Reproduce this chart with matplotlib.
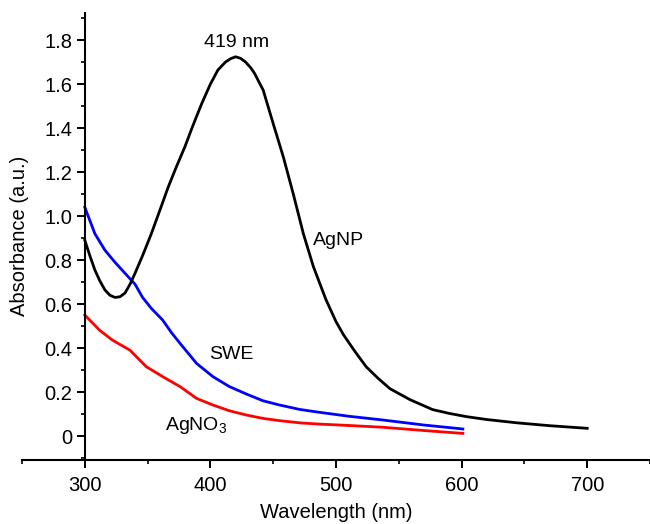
import numpy as np
import matplotlib
matplotlib.use('Agg')
import matplotlib.pyplot as plt
from matplotlib.ticker import MultipleLocator, FuncFormatter

# Fuente tipo Helvetica
plt.rcParams['font.family'] = ['Liberation Sans', 'DejaVu Sans']
plt.rcParams['mathtext.fontset'] = 'custom'
plt.rcParams['mathtext.rm'] = 'Liberation Sans'
plt.rcParams['mathtext.default'] = 'rm'

agnp_x = [300, 304, 308, 312, 316, 320, 324, 328, 332, 336, 340, 346, 353, 360, 366.5, 373,
          379.7, 386, 393, 400, 406, 412, 416, 420, 424, 428, 432, 435, 442, 450, 458, 466,
          474, 482, 492, 500, 506, 515, 524, 533, 543, 559, 577, 590, 604, 620, 644, 670, 700]
agnp_y = [0.89, 0.82, 0.755, 0.705, 0.664, 0.64, 0.63, 0.633, 0.65, 0.69, 0.74, 0.82, 0.92,
          1.03, 1.133, 1.225, 1.315, 1.41, 1.51, 1.60, 1.664, 1.70, 1.715, 1.724, 1.717, 1.70,
          1.675, 1.65, 1.573, 1.42, 1.27, 1.10, 0.92, 0.77, 0.62, 0.52, 0.46, 0.385, 0.315,
          0.265, 0.215, 0.165, 0.12, 0.103, 0.088, 0.075, 0.06, 0.047, 0.035]

swe_x = [300, 308, 316, 324, 332, 340, 346, 353, 362, 369, 376, 389, 402, 415, 429, 442,
         455, 471, 484, 510, 537, 570, 601]
swe_y = [1.04, 0.92, 0.845, 0.79, 0.74, 0.69, 0.63, 0.58, 0.527, 0.47, 0.42, 0.33, 0.27,
         0.225, 0.19, 0.16, 0.141, 0.121, 0.11, 0.09, 0.073, 0.05, 0.032]

agno3_x = [300, 312, 322, 336, 349, 362, 376, 389, 402, 415, 429, 442, 455, 471, 484, 510,
           537, 570, 601]
agno3_y = [0.55, 0.48, 0.436, 0.39, 0.315, 0.27, 0.224, 0.171, 0.141, 0.115, 0.095, 0.08,
           0.07, 0.06, 0.055, 0.048, 0.04, 0.025, 0.012]

fig = plt.figure(figsize=(6.5, 5.24), dpi=100)
ax = fig.add_axes([22 / 650, 64 / 524, 628 / 650, 447 / 524])

ax.plot(agno3_x, agno3_y, color='#ff0000', lw=2)
ax.plot(swe_x, swe_y, color='#0000ff', lw=2)
ax.plot(agnp_x, agnp_y, color='black', lw=2)

ax.set_xlim(250, 750)
ax.set_ylim(-0.109, 1.923)

ax.spines['top'].set_visible(False)
ax.spines['right'].set_visible(False)
ax.spines['left'].set_position(('data', 300))
for s in ['left', 'bottom']:
    ax.spines[s].set_linewidth(1.5)

ax.xaxis.set_major_locator(MultipleLocator(100))
ax.xaxis.set_minor_locator(MultipleLocator(50))
ax.yaxis.set_major_locator(MultipleLocator(0.2))
ax.yaxis.set_minor_locator(MultipleLocator(0.1))
ax.yaxis.set_major_formatter(FuncFormatter(lambda v, p: '0' if abs(v) < 1e-9 else f'{v:.1f}'))
ax.set_xticks([300, 400, 500, 600, 700])
ax.tick_params(which='major', direction='out', length=5.5, width=1.4, labelsize=14.5)
ax.tick_params(which='minor', direction='out', length=3, width=1.2)
ax.tick_params(axis='x', pad=6)

ax.set_xlabel('Wavelength (nm)', fontsize=14.5, labelpad=6)
ax.text(20 / 650, (524 - 236) / 524, 'Absorbance (a.u.)', transform=fig.transFigure,
        rotation=90, ha='center', va='center', fontsize=14.5)

ax.text(421, 1.79, '419 nm', fontsize=14, ha='center', va='center')
ax.text(482, 0.89, 'AgNP', fontsize=14, ha='left', va='center')
ax.text(399, 0.37, 'SWE', fontsize=14, ha='left', va='center')
ax.text(364, 0.05, 'AgNO$_3$', fontsize=14, ha='left', va='center')

fig.savefig('out.png', dpi=100)
